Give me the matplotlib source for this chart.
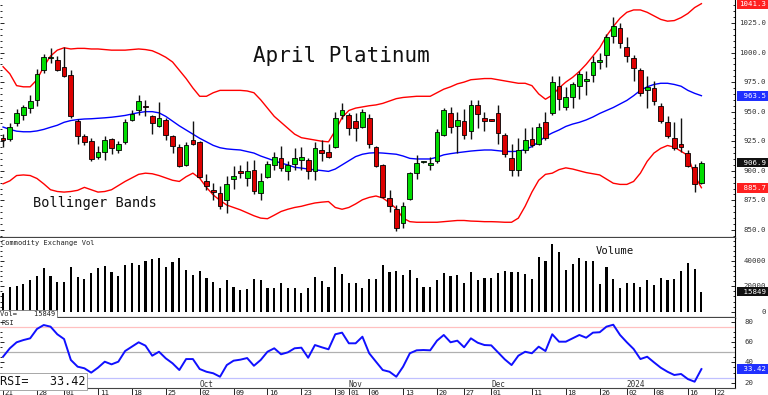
import numpy as np
import pandas as pd
import matplotlib
matplotlib.use("Agg")
import matplotlib.pyplot as plt
import matplotlib.transforms as mtransforms
from matplotlib.ticker import MultipleLocator

MONO = "DejaVu Sans Mono"

# trading calendar (exchange holidays removed), runs past the last bar
holidays = ["2023-09-04", "2023-11-23", "2023-12-25", "2024-01-01", "2024-01-15"]
days = pd.bdate_range("2023-08-21", "2024-01-26")
days = days[~days.isin(pd.to_datetime(holidays))]

# daily ohlc, april platinum
opens = [928, 927, 940, 947, 953, 960, 985, 995, 994, 988, 981, 942, 929, 925, 912, 916, 927, 918, 924, 943,
         951, 955, 946, 938, 943, 929, 920, 905, 926, 924, 891, 884, 881, 875, 893, 900, 894, 901, 881, 895,
         905, 911, 900, 906, 909, 909, 900, 918, 916, 920, 947, 947, 942, 937, 945, 920, 905, 877, 868, 856,
         876, 898, 907.5, 905, 908, 930, 949, 938, 942, 934, 956, 945, 943.5, 949, 930, 911, 901, 918, 927, 923,
         941, 949, 972, 954, 962, 972, 976, 981, 992, 998, 1014, 1021, 1005, 995, 985, 968, 970, 955, 941, 928,
         923, 915, 903, 890]
highs = [931, 940, 952, 956, 964, 986, 999, 1004, 997, 1005, 985, 944, 931, 928, 921, 929, 928, 925, 944, 951,
         964, 960, 947, 958, 945, 930, 923, 924, 942, 925, 897, 890, 887, 896, 904, 905, 908, 909, 898, 908,
         916, 921, 908, 919, 920, 911, 924, 926, 923, 950, 957, 949, 949, 952, 948, 921, 906, 884, 871, 874,
         899, 913, 908.5, 912, 935, 953, 954, 950, 952, 960, 960, 950, 944, 956, 932, 923, 928, 936, 937, 940,
         950, 980, 980, 971, 975, 984, 984, 997, 1000, 1016, 1030, 1025, 1013, 998, 987, 980, 976, 957, 946, 941,
         945, 918, 906, 908.5]
lows = [920, 925, 938, 943, 949, 955, 983, 991, 984, 979, 945, 923, 922, 908, 910, 909, 914, 915, 923, 942,
        947, 946, 931, 937, 926, 915, 903, 904, 922, 894, 884, 875, 868, 864, 885, 894, 887, 880, 875, 894,
        901, 900, 892, 901, 901, 893, 892, 908, 911, 919, 944, 930, 925, 936, 919, 903, 877, 865, 849, 852,
        875, 893, 907, 901, 907, 929, 932, 915, 927, 927, 936, 934, 942, 923, 912, 896, 896, 915, 920, 922,
        926, 947, 951, 951, 953, 961, 964, 975, 986, 988, 1008, 1004, 992, 976, 963, 953, 956, 940, 928, 918,
        916, 903, 882, 889]
closes = [926, 937, 949, 954, 959, 982, 996, 996, 985, 980, 946, 929, 924, 910, 916, 926, 919, 923, 941, 948,
          959, 954, 940, 945, 930, 921, 904, 922, 923, 895, 887, 882, 870, 889, 896, 898, 900, 883, 891, 906,
          912, 902, 905, 911, 912, 900, 919, 915, 912, 945, 951, 936, 936, 950, 923, 904, 878, 870, 852, 870,
          898, 907, 908, 907, 933, 951, 937, 943, 930, 956, 948, 942, 942.5, 932, 914, 901, 918, 926, 922, 937,
          928, 975, 961, 962, 973, 982, 978, 992, 994, 1013, 1022, 1008, 997, 987, 966, 971, 959, 942, 929, 919,
          920, 904, 889, 906.9]

# bollinger bands
bb_upper = [988, 982, 972, 971, 971, 977, 988, 997, 1002, 1004, 1003, 1003.5, 1003.5, 1003, 1003, 1002.5, 1002,
            1002, 1002, 1002.5, 1003, 1002.5, 1001.5, 999, 996, 992, 985, 978, 970, 963, 963, 966, 968, 968, 968,
            968, 967.5, 966, 960, 953, 946, 941, 936, 931, 928, 927, 926, 925, 924.5, 934, 945, 951, 953, 954, 955,
            955.7, 957, 959, 961, 962, 962.5, 963, 963, 963, 966, 969, 971, 973.5, 975, 977, 977.5, 978, 978, 977,
            976, 975, 974, 974, 972, 965, 960.5, 964, 970, 975, 979, 984, 990, 997, 1004, 1014, 1022, 1029, 1034,
            1036, 1036, 1034, 1031, 1028, 1026.5, 1027, 1029.5, 1033, 1038, 1041.3]
bb_mid = [937, 935, 933.5, 933, 933, 933.7, 935, 936.8, 938.5, 941, 942.5, 943.3, 943.8, 944, 944.4, 944.8, 945.3,
          946, 946.8, 948, 949.2, 950, 950, 949, 946, 942, 938, 934.5, 931, 927.5, 924.5, 921.5, 919.5, 918.5, 918,
          917.6, 916.3, 915, 912.5, 910.5, 908.5, 906.5, 905, 903, 902.3, 901.5, 900.8, 900.2, 899.5, 901.5, 905,
          908.5, 912, 914, 915, 915.3, 915, 914.5, 914, 912.5, 910.5, 910, 910, 910, 911.5, 913.5, 914.5, 915.3,
          916, 916.7, 917.2, 917.6, 917.6, 917, 916.4, 916.3, 916.5, 918, 920.5, 924.5, 929, 932, 934.5, 937.5,
          939.5, 941, 943, 945.5, 948.5, 951, 953.5, 956.5, 959.5, 963.5, 968, 971, 973, 974, 974, 973, 971.5,
          968, 965.5, 963.5]
bb_lower = [889, 891.5, 896, 896.5, 896, 893.5, 889, 884, 882.5, 882, 882.5, 883.5, 886, 884, 882, 882.5, 884,
            887.5, 891, 894, 897, 898, 897.5, 896, 894, 892, 891, 895, 898, 893.7, 886, 879.6, 875, 871, 869, 867,
            864.5, 862, 860, 859.5, 862.5, 865.6, 867.5, 869, 870, 871.5, 872.8, 873.5, 874, 869, 867.5, 869, 872,
            875.5, 877.5, 878.7, 877, 873, 868, 860, 857, 856.5, 856.5, 856.5, 856.5, 857, 857.5, 858, 858, 857.5,
            857.3, 857, 857, 856.8, 856.5, 856.5, 860, 870, 882, 892, 897, 898, 901, 902.5, 901.5, 900, 898.5,
            897.5, 896.5, 893, 889.5, 888.5, 888.5, 891, 898, 908, 915, 919, 921.4, 920, 916.5, 913, 896, 885.7]

# commodity exchange volume
volume = [14500, 19300, 20300, 22100, 24800, 28200, 34500, 28200, 23500, 23700, 35300, 27400, 26100, 30600,
          34800, 36100, 31100, 28400, 36900, 38200, 36900, 40000, 41600, 42200, 35100, 39500, 42200, 33200,
          29000, 32400, 26400, 23700, 18500, 24800, 19800, 17100, 17900, 25800, 25000, 19000, 19000, 22900,
          18500, 19000, 15000, 18500, 27400, 24300, 19800, 35300, 29500, 22400, 22400, 18500, 25800, 25800,
          36700, 31100, 32400, 28700, 33000, 26600, 19800, 19300, 25000, 30300, 28200, 28700, 22400, 31400,
          25000, 26900, 26600, 30600, 32200, 31600, 31600, 29500, 25600, 43200, 39800, 53200, 46900, 33200,
          37700, 42700, 40000, 40000, 22100, 35100, 25800, 18500, 22900, 22900, 19300, 24800, 20900, 26400,
          24800, 26100, 32200, 38200, 33700, 15849]

# relative strength index
rsi = [45.6, 53.9, 59.8, 62, 63.7, 72.9, 76.8, 75.2, 67.7, 63, 42.4, 35.8, 34.2, 29.9, 34.8, 40.7, 38.1, 40.7,
       51.2, 55.5, 59.8, 56.5, 46.6, 50.5, 44, 39.1, 32.5, 43.3, 43.3, 33.5, 30.8, 29.3, 25.9, 37.4, 41.7, 42.7,
       44.3, 36.7, 42.4, 50.5, 53.9, 48, 49.9, 53.9, 54.5, 44.6, 57.1, 54.9, 52.9, 67.7, 69.3, 58.8, 58.8, 65.3,
       49, 40.7, 32.5, 30.8, 25.9, 35.8, 49, 51.9, 52.2, 51.9, 61.4, 67, 59.8, 61.4, 54.9, 63.7, 59.4, 57.1,
       56.8, 49.9, 43, 37.4, 46.6, 50.5, 49, 55.5, 51.2, 67.7, 60.4, 60.4, 63.7, 67, 64.3, 69.3, 69.7, 75.2,
       77.1, 67, 59.8, 53.2, 43.3, 45.6, 40.1, 34.8, 30.8, 27.6, 28.6, 23.6, 21, 33.42]

# date axis
tick_days = ["2023-08-21", "2023-08-28", "2023-09-01", "2023-09-11", "2023-09-18", "2023-09-25", "2023-10-02",
             "2023-10-09", "2023-10-16", "2023-10-23", "2023-10-30", "2023-11-01", "2023-11-06", "2023-11-13",
             "2023-11-20", "2023-11-27", "2023-12-01", "2023-12-11", "2023-12-18", "2023-12-26", "2024-01-02",
             "2024-01-08", "2024-01-16", "2024-01-22"]
month_names = ["Oct", "Nov", "Dec", "2024"]
month_days = ["2023-10-02", "2023-11-01", "2023-12-01", "2024-01-02"]

price_ticks = [850, 875, 900, 925, 950, 975, 1000, 1025]
volume_ticks = [0, 20000, 40000]
rsi_ticks = [20, 40, 60, 80]

GREEN = "#00dd00"
RED = "#dd0000"


def day_index(d):
    return days.get_loc(pd.Timestamp(d))


def right_label(ax, y, text, x=1.042, ha="right", bg=None, fg="#333333"):
    tr = mtransforms.blended_transform_factory(ax.transAxes, ax.transData)
    box = None
    if bg is not None:
        box = dict(boxstyle="square,pad=0.25", facecolor=bg, edgecolor="none")
    ax.text(x, y, text, transform=tr, ha=ha, va="center", fontsize=5.3, family=MONO,
            color=fg, bbox=box, clip_on=False)


def style_panel(ax):
    for side in ["top", "left"]:
        ax.spines[side].set_visible(False)
    ax.spines["right"].set_linewidth(0.8)
    ax.spines["bottom"].set_color("#444444")
    ax.spines["bottom"].set_linewidth(1.6)
    ax.tick_params(axis="y", which="both", left=True, right=True, direction="in",
                   labelleft=False, labelright=False, length=3, width=0.6)
    ax.tick_params(axis="y", which="minor", length=1.5)
    ax.tick_params(axis="x", bottom=False, labelbottom=False)
    ax.set_xlim(-0.45, 107.95)


o = np.array(opens, dtype=float)
h = np.array(highs, dtype=float)
l = np.array(lows, dtype=float)
c = np.array(closes, dtype=float)
x = np.arange(len(c))

fig = plt.figure(figsize=(7.68, 3.95), dpi=100)
ax_p = fig.add_axes([0, 0.3975, 0.957, 0.6025])
ax_v = fig.add_axes([0, 0.1962, 0.957, 0.2013])
ax_r = fig.add_axes([0, 0.0177, 0.957, 0.1772])

# 1. price panel with bollinger bands
style_panel(ax_p)
ax_p.plot(x, bb_upper, color="#ff0000", lw=1.0)
ax_p.plot(x, bb_lower, color="#ff0000", lw=1.0)
ax_p.plot(x, bb_mid, color="#0000ff", lw=1.0)
ax_p.vlines(x, l, h, color="#111111", lw=1.0)
up = c >= o
body = np.maximum(np.abs(c - o), 0.6)
ax_p.bar(x, body, bottom=np.minimum(o, c), width=0.7, color=np.where(up, GREEN, RED),
         edgecolor="black", linewidth=0.6, zorder=3)
ax_p.set_ylim(843.2, 1044.4)
ax_p.yaxis.set_major_locator(MultipleLocator(25))
ax_p.yaxis.set_minor_locator(MultipleLocator(5))
for v in price_ticks:
    right_label(ax_p, v, f"{v:.1f}")
right_label(ax_p, bb_upper[-1], f"{bb_upper[-1]:>6.1f}", bg="#ff2020", fg="white")
right_label(ax_p, bb_mid[-1], f"{bb_mid[-1]:>6.1f}", bg="#2030ff", fg="white")
right_label(ax_p, closes[-1], f"{closes[-1]:>6.1f}", bg="#111111", fg="white")
right_label(ax_p, bb_lower[-1], f"{bb_lower[-1]:>6.1f}", bg="#ff2020", fg="white")
ax_p.text(0.464, 0.765, "April Platinum", transform=ax_p.transAxes, ha="center", va="center",
          fontsize=15, family=MONO, color="#111111")
ax_p.text(0.045, 0.145, "Bollinger Bands", transform=ax_p.transAxes, ha="left", va="center",
          fontsize=9.8, family=MONO, color="#111111")

# 2. volume panel
style_panel(ax_v)
ax_v.bar(x, volume, width=0.32, color="black")
ax_v.set_ylim(-4600, 58200)
ax_v.yaxis.set_major_locator(MultipleLocator(20000))
ax_v.yaxis.set_minor_locator(MultipleLocator(4000))
for v in volume_ticks:
    right_label(ax_v, v, f"{v}")
right_label(ax_v, volume[-1], f"{volume[-1]:>6d}", bg="#111111", fg="white")
ax_v.text(0.002, 0.935, "Commodity Exchange Vol", transform=ax_v.transAxes, ha="left", va="center",
          fontsize=5, family=MONO, color="#222222")
ax_v.text(0.81, 0.84, "Volume", transform=ax_v.transAxes, ha="left", va="center",
          fontsize=7.6, family=MONO, color="#111111")
ax_v.text(0.0, 0.005, f"Vol=    {volume[-1]}", transform=ax_v.transAxes, ha="left", va="bottom",
          fontsize=5, family=MONO, color="#222222",
          bbox=dict(boxstyle="square,pad=0.2", facecolor="white", edgecolor="#777777", linewidth=0.6))

# 3. rsi panel
style_panel(ax_r)
ax_r.spines["bottom"].set_linewidth(0.8)
ax_r.axhline(75, color="#ffc0c0", lw=0.9)
ax_r.axhline(50, color="#b0b0b0", lw=0.9)
ax_r.axhline(25, color="#c0c0ff", lw=0.9)
ax_r.plot(x, rsi, color="#1010ff", lw=1.4)
ax_r.set_ylim(14.8, 83.7)
ax_r.yaxis.set_major_locator(MultipleLocator(20))
ax_r.yaxis.set_minor_locator(MultipleLocator(5))
for v in rsi_ticks:
    right_label(ax_r, v, f"{v}", x=1.0136, ha="left")
right_label(ax_r, rsi[-1], f"{rsi[-1]:>6.2f}", bg="#2030ff", fg="white")
ax_r.text(0.002, 0.93, "RSI", transform=ax_r.transAxes, ha="left", va="center",
          fontsize=5, family=MONO, color="#222222")
ax_r.text(0.0, 0.0, f"RSI=   {rsi[-1]:.2f}", transform=ax_r.transAxes, ha="left", va="bottom",
          fontsize=8.5, family=MONO, color="#111111", zorder=5,
          bbox=dict(boxstyle="square,pad=0.15", facecolor="white", edgecolor="#999999", linewidth=0.6))

# date ticks hang below the rsi panel, label to the right of the tick
tick_idx = [day_index(d) for d in tick_days]
ax_r.set_xticks(tick_idx)
ax_r.tick_params(axis="x", bottom=True, direction="out", length=5, width=0.6, labelbottom=False)
for d, i in zip(tick_days, tick_idx):
    ax_r.annotate(pd.Timestamp(d).strftime("%d"), xy=(i, 0), xycoords=("data", "axes fraction"),
                  xytext=(1.2, -1.2), textcoords="offset points", ha="left", va="top",
                  fontsize=5.3, family=MONO, color="#222222", annotation_clip=False)
for name, d in zip(month_names, month_days):
    ax_r.annotate(name, xy=(day_index(d), 0.045), xycoords=("data", "axes fraction"),
                  ha="left", va="center", fontsize=5.5, family=MONO, color="#333333")

fig.savefig("out.png", dpi=100)
